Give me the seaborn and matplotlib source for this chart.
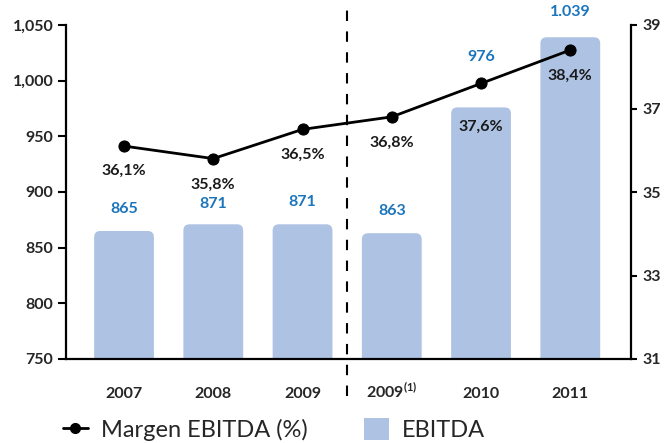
import matplotlib
matplotlib.use("Agg")
import matplotlib.pyplot as plt
import seaborn as sns
import pandas as pd
from matplotlib.patches import FancyBboxPatch, Patch
from matplotlib.lines import Line2D
from matplotlib.ticker import FuncFormatter

# ---- data ----
years = ["2007", "2008", "2009", "2009$^{\\mathbf{(1)}}$", "2010", "2011"]
ebitda = [865, 871, 871, 863, 976, 1039]
ebitda_labels = ["865", "871", "871", "863", "976", "1.039"]
margin = [36.1, 35.8, 36.5, 36.8, 37.6, 38.4]
margin_labels = ["36,1%", "35,8%", "36,5%", "36,8%", "37,6%", "38,4%"]
left_ticks = [750, 800, 850, 900, 950, 1000, 1050]
right_ticks = [31, 33, 35, 37, 39]

# ---- style ----
sns.set_style("white")
plt.rcParams["font.family"] = ["Lato", "DejaVu Sans"]
plt.rcParams["mathtext.fontset"] = "custom"
plt.rcParams["mathtext.rm"] = "Lato"
plt.rcParams["mathtext.bf"] = "Lato:bold"

BAR_COLOR = "#aec3e4"
BLUE = "#1b75bc"
FS = 11.5

fig = plt.figure(figsize=(6.68, 4.43), dpi=100)
ax = fig.add_axes([66 / 668, 1 - 359 / 443, (631 - 66) / 668, (359 - 25) / 443])

df = pd.DataFrame({"year": years, "ebitda": ebitda, "margin": margin})
sns.barplot(data=df, x="year", y="ebitda", ax=ax, color=BAR_COLOR,
            width=0.67, saturation=1, edgecolor="none")

ax.set_ylim(750, 1050)
ax.set_xlim(-0.65, 5.68)

# round top corners of the bars
ratio = (300 / 334) / (6.33 / 565)
bars = list(ax.patches)
for p in bars:
    x, y, w, h = p.get_x(), p.get_y(), p.get_width(), p.get_height()
    p.set_visible(False)
    fb = FancyBboxPatch((x, y), w, h,
                        boxstyle="round,pad=0,rounding_size=0.07",
                        mutation_aspect=ratio, facecolor=BAR_COLOR,
                        edgecolor="none", zorder=1)
    ax.add_patch(fb)

bar_offsets = [22, 20, 22, 22, 50, 25]
for i, (v, lab) in enumerate(zip(ebitda, ebitda_labels)):
    ax.annotate(lab, (i, v), xytext=(0, bar_offsets[i] / 1.389),
                textcoords="offset points", ha="center", va="center",
                color=BLUE, fontsize=FS, fontweight="bold",
                annotation_clip=False)

ax.set_yticks(left_ticks)
ax.yaxis.set_major_formatter(FuncFormatter(lambda v, _: f"{v:,.0f}"))
ax.set_xlabel("")
ax.set_ylabel("")
ax.tick_params(axis="y", direction="out", length=6, width=1.5, color="black",
               labelsize=FS, pad=3, left=True)
ax.tick_params(axis="x", length=0, labelsize=FS, pad=28)
for lab in ax.get_yticklabels() + ax.get_xticklabels():
    lab.set_fontweight("bold")
for lab in ax.get_xticklabels():
    lab.set_verticalalignment("baseline")
for s in ["top", "right"]:
    ax.spines[s].set_visible(False)
for s in ["left", "bottom"]:
    ax.spines[s].set_color("black")
    ax.spines[s].set_linewidth(1.6)

# secondary axis for margin
ax2 = ax.twinx()
sns.lineplot(x=list(range(len(years))), y=margin, ax=ax2, color="black",
             linewidth=2, marker="o", markersize=8, markeredgecolor="black",
             zorder=5)
ax2.set_ylim(31, 39)
ax2.set_xlim(-0.65, 5.68)
ax2.set_yticks(right_ticks)
ax2.tick_params(axis="y", direction="out", length=4, width=1.5, color="black",
                labelsize=FS, pad=4, right=True)
for lab in ax2.get_yticklabels():
    lab.set_fontweight("bold")
for s in ["top", "left", "bottom"]:
    ax2.spines[s].set_visible(False)
ax2.spines["right"].set_color("black")
ax2.spines["right"].set_linewidth(1.6)
ax2.set_ylabel("")

pct_offsets = [-25, -26, -25, -26, -43, -26]
for i, (v, lab) in enumerate(zip(margin, margin_labels)):
    ax2.annotate(lab, (i, v), xytext=(0, pct_offsets[i] / 1.389),
                 textcoords="offset points", ha="center", va="center",
                 color="#1a1a1a", fontsize=FS, fontweight="bold")

# dashed separator between 2009 and 2009(1)
ax.axvline(2.5, ymin=-0.11, ymax=1.05, color="black",
           linewidth=1.5, linestyle=(0, (5, 5)), clip_on=False, zorder=6)

# legend
handles = [Line2D([0], [0], color="black", linewidth=2, marker="o",
                  markersize=7),
           Patch(facecolor=BAR_COLOR, edgecolor="none")]
leg = fig.legend(handles, ["Margen EBITDA (%)", "EBITDA"], ncol=2,
                 loc="center left", bbox_to_anchor=(0.094, 0.03),
                 frameon=False, fontsize=17, columnspacing=2.4,
                 handlelength=1.05, handletextpad=0.55, handleheight=1.05,
                 borderpad=0, borderaxespad=0)

fig.savefig("out.png", dpi=100)
